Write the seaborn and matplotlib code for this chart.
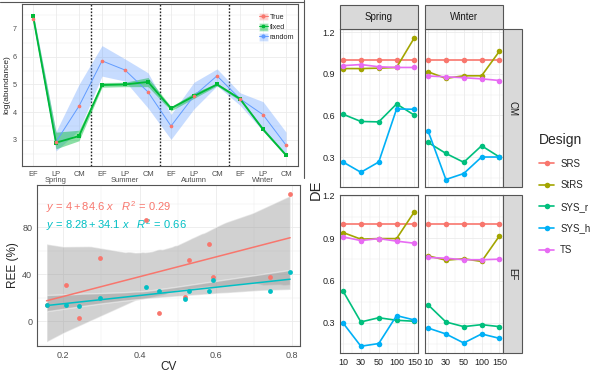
import numpy as np
import pandas as pd
import matplotlib
matplotlib.use("Agg")
import matplotlib.pyplot as plt
import seaborn as sns
from matplotlib.lines import Line2D
from matplotlib.patches import Patch, Rectangle

# ---------------- panel A: log(abundance) by stage and season
seasons = ["Spring", "Summer", "Autumn", "Winter"]
stages = ["EF", "LP", "CM"]
true_vals = [7.36, 2.93, 4.22, 5.85, 5.52, 4.73, 3.50, 4.59, 5.31, 4.48, 3.91, 2.81]
fixed_vals = [7.48, 2.90, 3.14, 4.98, 5.00, 5.09, 4.14, 4.58, 5.00, 4.48, 3.38, 2.45]
fixed_lo = [7.40, 2.68, 2.97, 4.90, 4.92, 4.92, 4.05, 4.50, 4.95, 4.42, 3.32, 2.40]
fixed_hi = [7.58, 3.28, 3.35, 5.07, 5.08, 5.25, 4.20, 4.70, 5.05, 4.52, 3.44, 2.50]
random_vals = [7.45, 2.93, 4.22, 5.85, 5.52, 4.73, 3.50, 4.59, 5.31, 4.48, 3.91, 2.81]
random_lo = [7.30, 2.60, 3.35, 5.30, 5.12, 4.15, 3.02, 4.12, 4.95, 4.25, 3.32, 2.42]
random_hi = [7.62, 3.30, 5.00, 6.40, 5.92, 5.42, 3.92, 5.08, 5.56, 4.70, 4.38, 3.28]

# ---------------- panel B: REE vs CV
cv = [0.156, 0.207, 0.240, 0.296, 0.416, 0.450, 0.520, 0.530, 0.583, 0.594, 0.743, 0.795]
ree_red = [13.5, 30.6, 3.0, 54.0, 86.0, 7.0, 21.0, 52.5, 66.0, 37.6, 37.6, 108.0]
ree_cyan = [14.0, 14.0, 13.0, 20.0, 29.5, 25.7, 19.0, 25.7, 25.7, 35.0, 25.7, 42.0]
eq_red = r"$y\,=\,4+84.6\ x\quad R^2\,=\,0.29$"
eq_cyan = r"$y\,=\,8.28+34.1\ x\quad R^2\,=\,0.66$"

# ---------------- panel C: DE by sample size
sizes = ["10", "30", "50", "100", "150"]
designs = ["SRS", "StRS", "SYS_r", "SYS_h", "TS"]
cm_spring = {"SRS": [1.0, 1.0, 1.0, 1.0, 1.0],
             "StRS": [0.937, 0.937, 0.94, 0.945, 1.16],
             "SYS_r": [0.608, 0.556, 0.553, 0.682, 0.601],
             "SYS_h": [0.264, 0.19, 0.264, 0.646, 0.644],
             "TS": [0.958, 0.966, 0.95, 0.945, 0.945]}
cm_winter = {"SRS": [1.0, 1.0, 1.0, 1.0, 1.0],
             "StRS": [0.914, 0.866, 0.885, 0.885, 1.062],
             "SYS_r": [0.405, 0.326, 0.262, 0.381, 0.30],
             "SYS_h": [0.489, 0.138, 0.181, 0.30, 0.30],
             "TS": [0.883, 0.878, 0.871, 0.863, 0.851]}
ef_spring = {"SRS": [1.0, 1.0, 1.0, 1.0, 1.0],
             "StRS": [0.941, 0.894, 0.898, 0.898, 1.089],
             "SYS_r": [0.526, 0.307, 0.337, 0.319, 0.312],
             "SYS_h": [0.30, 0.135, 0.154, 0.352, 0.321],
             "TS": [0.91, 0.884, 0.898, 0.88, 0.865]}
ef_winter = {"SRS": [1.0, 1.0, 1.0, 1.0, 1.0],
             "StRS": [0.776, 0.745, 0.755, 0.736, 0.917],
             "SYS_r": [0.429, 0.307, 0.274, 0.288, 0.274],
             "SYS_h": [0.264, 0.222, 0.158, 0.222, 0.191],
             "TS": [0.764, 0.759, 0.748, 0.748, 0.752]}
design_colors = ["#F8766D", "#A3A500", "#00BF7D", "#00B0F6", "#E76BF3"]

sns.set_theme(style="white")
plt.rcParams["font.family"] = ["Liberation Sans", "DejaVu Sans"]
plt.rcParams["mathtext.fontset"] = "custom"
plt.rcParams["mathtext.rm"] = "Liberation Sans"
plt.rcParams["mathtext.it"] = "Liberation Sans:italic"

W, H = 599, 377
fig = plt.figure(figsize=(W / 100, H / 100), dpi=100)


def px_axes(l, t, r, b):
    return fig.add_axes([l / W, 1 - b / H, (r - l) / W, (b - t) / H])


def gg_frame(ax, col="#333333", lw=0.8):
    for s in ax.spines.values():
        s.set_visible(True)
        s.set_color(col)
        s.set_linewidth(lw)
    ax.tick_params(length=2, width=0.6, color="#333333", pad=1.5)


# ===== panel A
axA = px_axes(22, 4, 298, 166)
pos = np.arange(12)
for y in np.arange(2.5, 8.0, 0.5):
    axA.axhline(y, color="#EBEBEB", lw=0.6 if y % 1 == 0 else 0.35, zorder=0)
for x in pos:
    axA.axvline(x, color="#EBEBEB", lw=0.6, zorder=0)
for x in [2.5, 5.5, 8.5]:
    axA.axvline(x, color="#222222", lw=1.0, ls=(0, (1.2, 1.2)), zorder=1)

c_true, c_fixed, c_random = "#F8766D", "#00BA38", "#619CFF"
axA.fill_between(pos, random_lo, random_hi, color=c_random, alpha=0.35, lw=0, zorder=2)
axA.fill_between(pos, fixed_lo, fixed_hi, color=c_fixed, alpha=0.45, lw=0, zorder=3)
dfA = pd.DataFrame({"pos": pos, "true": true_vals, "fixed": fixed_vals, "random": random_vals})
sns.lineplot(data=dfA, x="pos", y="random", color=c_random, lw=0.7, ax=axA, zorder=4)
sns.lineplot(data=dfA, x="pos", y="fixed", color=c_fixed, lw=1.3, ax=axA, zorder=5)
sns.scatterplot(data=dfA, x="pos", y="fixed", color=c_fixed, marker="s", s=7, linewidth=0, ax=axA, zorder=6)
sns.scatterplot(data=dfA, x="pos", y="true", color=c_true, s=7, linewidth=0, ax=axA, zorder=7)

axA.set_xlim(-0.478, 11.52)
axA.set_ylim(2.06, 7.9)
axA.set_xticks(pos)
labsA = []
for s in seasons:
    labsA += ["EF", "LP\n" + s, "CM"]
axA.set_xticklabels(labsA, fontsize=5.4, color="#4D4D4D", linespacing=0.9, va="top")
axA.set_yticks([3, 4, 5, 6, 7])
axA.set_yticklabels(["3", "4", "5", "6", "7"], fontsize=5.2, color="#4D4D4D")
axA.set_xlabel("")
axA.set_ylabel("log(abundance)", fontsize=6, labelpad=2)
gg_frame(axA, col="#555555")

hA = [(Patch(facecolor=c_true, alpha=0.35), Line2D([], [], color=c_true, marker="o", ms=2, lw=0.7)),
      (Patch(facecolor=c_fixed, alpha=0.45), Line2D([], [], color=c_fixed, marker="s", ms=2, lw=0.7)),
      (Patch(facecolor=c_random, alpha=0.35), Line2D([], [], color=c_random, marker="o", ms=2, lw=0.7))]
axA.legend(hA, ["True", "fixed", "random"], loc="upper left", bbox_to_anchor=(255 / W, 1 - 9 / H),
           bbox_transform=fig.transFigure, frameon=False, fontsize=5.2, handlelength=1.3,
           handleheight=1.3, handletextpad=0.2, labelspacing=0.25, borderpad=0)

# ===== panel B
axB = px_axes(37, 185, 300, 346)
axB.set_facecolor("white")
for y in np.arange(-20, 121, 20):
    axB.axhline(y, color="#EBEBEB", lw=0.6 if y % 40 == 0 else 0.35, zorder=0)
for x in np.arange(0.1, 0.9, 0.1):
    axB.axvline(x, color="#EBEBEB", lw=0.6 if round(x * 10) % 2 == 0 else 0.35, zorder=0)

for vals, col in [(ree_red, "#F8766D"), (ree_cyan, "#00BFC4")]:
    n0 = len(axB.collections)
    sns.regplot(x=cv, y=vals, ax=axB, color=col, ci=99, seed=3,
                scatter_kws={"s": 12, "linewidths": 0, "alpha": 1, "zorder": 5},
                line_kws={"lw": 1.1, "zorder": 4})
    for c in axB.collections[n0:]:
        if c.get_offsets().shape[0] != len(cv):
            c.set_facecolor("#999999")
            c.set_alpha(0.45)
            c.set_zorder(2)

axB.text(0.155, 97.5, eq_red, color="#F8766D", fontsize=8, va="center")
axB.text(0.155, 82.0, eq_cyan, color="#00BFC4", fontsize=8, va="center")
axB.set_xlim(0.131, 0.821)
axB.set_ylim(-21, 116)
axB.set_xticks([0.2, 0.4, 0.6, 0.8])
axB.set_xticklabels(["0.2", "0.4", "0.6", "0.8"], fontsize=6.5, color="#4D4D4D")
axB.set_yticks([0, 40, 80])
axB.set_yticklabels(["0", "40", "80"], fontsize=6.5, color="#4D4D4D")
axB.set_xlabel("CV", fontsize=8.5, labelpad=1)
axB.set_ylabel("REE (%)", fontsize=8.5, labelpad=2)
gg_frame(axB, col="#555555")

# outer frame lines of the left block
fig.add_artist(Line2D([0, 304 / W], [1 - 1.5 / H, 1 - 1.5 / H], color="#555555", lw=0.8))
fig.add_artist(Line2D([304 / W, 304 / W], [1, 1 - 178 / H], color="#555555", lw=0.8))

# ===== panel C
facets = [(cm_spring, 340, 29, 418, 187, (0.084, 1.222)),
          (cm_winter, 425, 29, 503, 187, (0.084, 1.222)),
          (ef_spring, 340, 195, 418, 353, (0.087, 1.207)),
          (ef_winter, 425, 195, 503, 353, (0.087, 1.207))]
for i, (fd, l, t, r, b, yl) in enumerate(facets):
    ax = px_axes(l, t, r, b)
    rows = [(d, k, v) for d in designs for k, v in enumerate(fd[d])]
    df = pd.DataFrame(rows, columns=["Design", "pos", "DE"])
    for y in np.arange(0.15, 1.25, 0.15):
        ax.axhline(y, color="#EBEBEB", lw=0.6 if round(y / 0.15) % 2 == 0 else 0.35, zorder=0)
    for x in np.arange(0, 4.5, 0.5):
        ax.axvline(x, color="#EBEBEB", lw=0.6 if x % 1 == 0 else 0.35, zorder=0)
    sns.lineplot(data=df, x="pos", y="DE", hue="Design", hue_order=designs, palette=design_colors,
                 marker="o", markersize=4, markeredgewidth=0, lw=1.2, ax=ax, legend=False)
    ax.set_xlim(-0.17, 4.2)
    ax.set_ylim(*yl)
    ax.set_xticks(range(5))
    ax.set_yticks([0.3, 0.6, 0.9, 1.2])
    ax.set_xlabel("")
    ax.set_ylabel("")
    if i >= 2:
        ax.set_xticklabels(sizes, fontsize=6.5, color="#222222")
    else:
        ax.set_xticklabels([])
    if i % 2 == 0:
        ax.set_yticklabels(["0.3", "0.6", "0.9", "1.2"], fontsize=6.5, color="#222222")
    else:
        ax.set_yticklabels([])
    gg_frame(ax, col="#555555")
    if i < 2:
        fig.add_artist(Rectangle((l / W, 1 - t / H), (r - l) / W, 24 / H, facecolor="#D9D9D9",
                                 edgecolor="#555555", lw=0.8))
        fig.text((l + r) / 2 / W, 1 - 17 / H, ["Spring", "Winter"][i], fontsize=7,
                 ha="center", va="center", color="#1A1A1A")
    if i % 2 == 1:
        fig.add_artist(Rectangle((r / W, 1 - b / H), 19 / W, (b - t) / H, facecolor="#D9D9D9",
                                 edgecolor="#555555", lw=0.8))
        fig.text((r + 9.5) / W, 1 - (t + b) / 2 / H, ["CM", "EF"][i // 2], fontsize=7,
                 rotation=-90, ha="center", va="center", color="#1A1A1A")

fig.text(316 / W, 1 - 190 / H, "DE", fontsize=10.5, rotation=90, ha="center", va="center")

hC = [Line2D([], [], color=c, marker="o", ms=4, mew=0, lw=1.2) for c in design_colors]
fig.legend(hC, designs, title="Design", loc="upper left", bbox_to_anchor=(534 / W, 1 - 128 / H),
           frameon=False, fontsize=7, title_fontsize=10, handlelength=1.6, handletextpad=0.6,
           labelspacing=1.2, borderpad=0, alignment="left")

fig.savefig("out.png", dpi=100, facecolor="white")
